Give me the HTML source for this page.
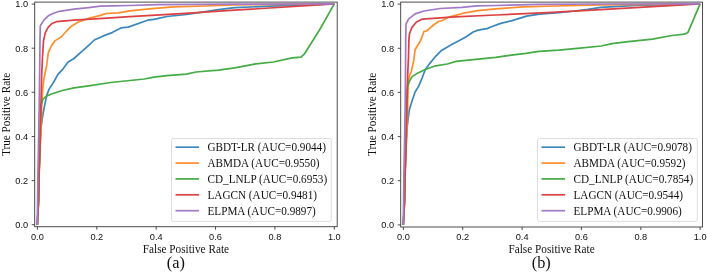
<!DOCTYPE html>
<html><head><meta charset="utf-8"><title>ROC</title>
<style>
html,body{margin:0;padding:0;background:#fff;}
body{width:707px;height:273px;overflow:hidden;}
svg{display:block;will-change:transform;}
text{fill:#111;}
.tk{font-family:"Liberation Sans",sans-serif;font-size:8.4px;}
.lb{font-family:"Liberation Serif",serif;font-size:11.25px;}
.lg{font-family:"Liberation Serif",serif;font-size:11.2px;}
.pl{font-family:"Liberation Serif",serif;font-size:16.3px;}
</style></head>
<body>
<svg width="707" height="273" viewBox="0 0 707 273">
<rect width="707" height="273" fill="#ffffff"/>
<clipPath id="ca"><rect x="34.7" y="2.1" width="302.5" height="224.6"/></clipPath>
<g clip-path="url(#ca)" fill="none" stroke-width="1.7" stroke-linejoin="round" stroke-linecap="butt">
<polyline points="37.3,224.9 38.5,201.0 39.0,174.0 39.9,147.0 41.0,128.0 42.1,119.8 43.4,111.8 44.9,103.9 46.9,94.9 49.1,89.1 53.5,82.5 57.9,74.4 62.4,69.7 68.1,62.1 74.0,58.5 81.3,51.9 88.7,45.3 94.3,40.0 103.3,35.9 112.1,32.6 120.9,27.9 128.2,27.1 147.6,20.2 154.0,19.4 166.9,16.5 186.3,14.5 202.4,12.1 218.5,9.7 234.7,7.7 270.0,6.1 334.3,3.9" stroke="#3a87bd"/>
<polyline points="37.3,224.9 38.6,201.0 39.2,174.0 40.2,147.0 41.5,120.0 41.7,105.0 42.4,95.0 42.7,89.0 43.9,78.8 46.4,67.0 48.3,52.6 51.3,46.0 54.9,40.9 58.5,38.6 61.5,36.7 66.7,30.8 71.0,26.4 78.4,22.0 88.7,18.3 100.4,15.4 106.2,13.5 118.0,12.9 129.8,10.8 149.2,8.9 173.4,6.9 205.6,6.0 234.7,4.8 334.3,3.9" stroke="#ff8e2b"/>
<polyline points="37.3,224.9 38.5,201.0 39.0,174.0 39.8,147.0 40.3,120.0 40.8,108.0 41.4,104.4 42.9,99.5 45.8,96.5 50.8,94.3 62.3,90.5 74.0,87.9 88.7,85.8 110.6,82.5 125.0,81.0 144.4,79.0 154.0,77.2 166.9,75.7 186.3,74.2 196.0,72.0 218.5,70.2 234.7,67.9 255.8,63.8 273.5,62.0 292.1,57.9 301.0,57.1 304.2,54.2 319.5,30.0 334.3,3.9" stroke="#45ab45"/>
<polyline points="37.3,224.9 38.6,201.0 39.1,174.0 40.0,147.0 40.6,120.0 40.8,109.6 41.7,74.6 42.5,57.0 43.5,40.9 45.4,32.3 48.3,27.1 52.0,23.5 56.4,21.7 74.0,20.2 103.3,18.3 129.7,16.6 181.5,13.7 234.7,10.2 334.3,3.9" stroke="#db4142"/>
<polyline points="37.3,224.9 37.6,201.0 37.9,174.0 38.5,147.0 38.9,120.0 39.2,108.0 39.8,60.0 40.0,39.6 40.3,25.7 43.9,20.1 48.3,15.8 53.5,13.3 59.3,11.3 74.0,9.1 88.7,7.6 100.4,6.2 112.0,5.9 129.7,5.5 157.3,4.7 234.7,4.1 334.3,3.9" stroke="#a179c5"/>
</g>
<rect x="34.7" y="2.1" width="302.5" height="224.6" fill="none" stroke="#3a3a3a" stroke-width="0.9"/>
<line x1="37.4" y1="226.7" x2="37.4" y2="229.7" stroke="#3a3a3a" stroke-width="0.9"/>
<line x1="34.7" y1="224.7" x2="31.700000000000003" y2="224.7" stroke="#3a3a3a" stroke-width="0.9"/>
<text transform="translate(37.4,239.5) scale(1.1,1)" text-anchor="middle" class="tk">0.0</text>
<text transform="translate(28.1,227.9) scale(1.1,1)" text-anchor="end" class="tk">0.0</text>
<line x1="96.8" y1="226.7" x2="96.8" y2="229.7" stroke="#3a3a3a" stroke-width="0.9"/>
<line x1="34.7" y1="180.6" x2="31.700000000000003" y2="180.6" stroke="#3a3a3a" stroke-width="0.9"/>
<text transform="translate(96.8,239.5) scale(1.1,1)" text-anchor="middle" class="tk">0.2</text>
<text transform="translate(28.1,183.8) scale(1.1,1)" text-anchor="end" class="tk">0.2</text>
<line x1="156.2" y1="226.7" x2="156.2" y2="229.7" stroke="#3a3a3a" stroke-width="0.9"/>
<line x1="34.7" y1="136.5" x2="31.700000000000003" y2="136.5" stroke="#3a3a3a" stroke-width="0.9"/>
<text transform="translate(156.2,239.5) scale(1.1,1)" text-anchor="middle" class="tk">0.4</text>
<text transform="translate(28.1,139.7) scale(1.1,1)" text-anchor="end" class="tk">0.4</text>
<line x1="215.5" y1="226.7" x2="215.5" y2="229.7" stroke="#3a3a3a" stroke-width="0.9"/>
<line x1="34.7" y1="92.3" x2="31.700000000000003" y2="92.3" stroke="#3a3a3a" stroke-width="0.9"/>
<text transform="translate(215.5,239.5) scale(1.1,1)" text-anchor="middle" class="tk">0.6</text>
<text transform="translate(28.1,95.6) scale(1.1,1)" text-anchor="end" class="tk">0.6</text>
<line x1="274.9" y1="226.7" x2="274.9" y2="229.7" stroke="#3a3a3a" stroke-width="0.9"/>
<line x1="34.7" y1="48.2" x2="31.700000000000003" y2="48.2" stroke="#3a3a3a" stroke-width="0.9"/>
<text transform="translate(274.9,239.5) scale(1.1,1)" text-anchor="middle" class="tk">0.8</text>
<text transform="translate(28.1,51.5) scale(1.1,1)" text-anchor="end" class="tk">0.8</text>
<line x1="334.3" y1="226.7" x2="334.3" y2="229.7" stroke="#3a3a3a" stroke-width="0.9"/>
<line x1="34.7" y1="4.1" x2="31.700000000000003" y2="4.1" stroke="#3a3a3a" stroke-width="0.9"/>
<text transform="translate(334.3,239.5) scale(1.1,1)" text-anchor="middle" class="tk">1.0</text>
<text transform="translate(28.1,7.3) scale(1.1,1)" text-anchor="end" class="tk">1.0</text>
<text transform="translate(185.9,253.1) scale(1,1.13)" text-anchor="middle" class="lb">False Positive Rate</text>
<text transform="translate(10.4,114.4) rotate(-90) scale(1,1.13)" text-anchor="middle" class="lb">True Positive Rate</text>
<text x="175.8" y="267.6" text-anchor="middle" class="pl">(a)</text>
<rect x="171.5" y="138.5" width="159.8" height="82.9" rx="1.8" fill="#fff" fill-opacity="0.8" stroke="#d2d2d2" stroke-opacity="0.85" stroke-width="0.9"/>
<line x1="175.5" y1="147.2" x2="199.1" y2="147.2" stroke="#3a87bd" stroke-width="1.7"/>
<text transform="translate(207.5,151.0) scale(1,1.13)" class="lg">GBDT-LR (AUC=0.9044)</text>
<line x1="175.5" y1="163.1" x2="199.1" y2="163.1" stroke="#ff8e2b" stroke-width="1.7"/>
<text transform="translate(207.5,166.9) scale(1,1.13)" class="lg">ABMDA (AUC=0.9550)</text>
<line x1="175.5" y1="178.9" x2="199.1" y2="178.9" stroke="#45ab45" stroke-width="1.7"/>
<text transform="translate(207.5,182.8) scale(1,1.13)" class="lg">CD_LNLP (AUC=0.6953)</text>
<line x1="175.5" y1="194.8" x2="199.1" y2="194.8" stroke="#db4142" stroke-width="1.7"/>
<text transform="translate(207.5,198.7) scale(1,1.13)" class="lg">LAGCN (AUC=0.9481)</text>
<line x1="175.5" y1="210.7" x2="199.1" y2="210.7" stroke="#a179c5" stroke-width="1.7"/>
<text transform="translate(207.5,214.5) scale(1,1.13)" class="lg">ELPMA (AUC=0.9897)</text>
<clipPath id="cb"><rect x="400.7" y="2.1" width="301.8" height="224.9"/></clipPath>
<g clip-path="url(#cb)" fill="none" stroke-width="1.7" stroke-linejoin="round" stroke-linecap="butt">
<polyline points="403.3,224.9 404.5,201.0 405.0,174.0 405.9,147.0 407.0,128.0 408.0,119.8 409.4,109.6 412.1,100.8 415.1,92.0 418.7,86.1 422.4,77.3 425.3,69.5 429.7,63.6 435.6,56.3 441.5,50.4 451.7,44.5 460.3,40.0 466.2,36.7 473.2,32.0 478.1,30.1 486.9,28.6 492.8,26.3 500.7,23.4 512.0,20.6 526.5,16.1 539.4,14.2 558.7,12.6 574.9,11.0 587.8,9.4 600.7,7.4 636.0,5.3 700.1,3.9" stroke="#3a87bd"/>
<polyline points="403.3,224.9 404.6,201.0 405.2,174.0 406.2,147.0 407.5,120.0 407.8,100.0 408.5,80.3 409.9,74.6 411.4,71.0 413.6,61.4 415.1,49.7 419.5,42.3 421.5,38.5 423.9,31.5 426.8,30.8 434.1,24.5 438.5,21.5 440.8,21.0 442.9,20.2 447.7,17.5 451.7,16.4 463.4,13.2 478.1,10.6 495.7,8.9 523.3,6.9 555.5,6.0 600.7,4.9 700.1,3.9" stroke="#ff8e2b"/>
<polyline points="403.3,224.9 404.5,201.0 405.0,174.0 405.8,147.0 406.3,120.0 406.8,100.0 407.4,86.9 409.2,81.7 412.1,76.6 418.0,72.9 425.3,69.5 435.6,65.8 447.3,64.0 456.1,61.4 478.1,59.2 495.7,57.4 509.4,55.4 525.9,53.3 538.8,51.3 559.0,50.2 577.4,48.4 601.3,46.0 612.0,43.7 628.3,41.6 652.5,39.2 671.8,35.5 684.7,34.2 688.0,32.3 700.1,3.9" stroke="#45ab45"/>
<polyline points="403.3,224.9 404.6,201.0 405.1,174.0 406.0,147.0 406.6,120.0 406.7,109.6 407.2,90.0 407.7,74.6 408.5,57.0 408.9,39.6 409.5,33.7 412.1,27.1 416.5,22.0 422.4,19.1 454.7,16.9 495.7,15.0 547.5,12.6 600.7,9.6 700.1,3.9" stroke="#db4142"/>
<polyline points="403.3,224.9 403.6,201.0 403.9,174.0 404.5,147.0 404.9,120.0 405.2,108.0 405.6,60.0 405.7,39.6 406.0,24.2 408.5,19.1 415.1,13.9 423.9,11.0 440.0,8.5 462.0,7.3 476.6,5.9 495.7,5.5 539.4,4.4 600.7,4.0 700.1,3.9" stroke="#a179c5"/>
</g>
<rect x="400.7" y="2.1" width="301.8" height="224.9" fill="none" stroke="#3a3a3a" stroke-width="0.9"/>
<line x1="403.4" y1="227.0" x2="403.4" y2="230.0" stroke="#3a3a3a" stroke-width="0.9"/>
<line x1="400.7" y1="224.9" x2="397.7" y2="224.9" stroke="#3a3a3a" stroke-width="0.9"/>
<text transform="translate(403.4,239.5) scale(1.1,1)" text-anchor="middle" class="tk">0.0</text>
<text transform="translate(394.1,228.2) scale(1.1,1)" text-anchor="end" class="tk">0.0</text>
<line x1="462.7" y1="227.0" x2="462.7" y2="230.0" stroke="#3a3a3a" stroke-width="0.9"/>
<line x1="400.7" y1="180.7" x2="397.7" y2="180.7" stroke="#3a3a3a" stroke-width="0.9"/>
<text transform="translate(462.7,239.5) scale(1.1,1)" text-anchor="middle" class="tk">0.2</text>
<text transform="translate(394.1,184.0) scale(1.1,1)" text-anchor="end" class="tk">0.2</text>
<line x1="522.1" y1="227.0" x2="522.1" y2="230.0" stroke="#3a3a3a" stroke-width="0.9"/>
<line x1="400.7" y1="136.6" x2="397.7" y2="136.6" stroke="#3a3a3a" stroke-width="0.9"/>
<text transform="translate(522.1,239.5) scale(1.1,1)" text-anchor="middle" class="tk">0.4</text>
<text transform="translate(394.1,139.8) scale(1.1,1)" text-anchor="end" class="tk">0.4</text>
<line x1="581.4" y1="227.0" x2="581.4" y2="230.0" stroke="#3a3a3a" stroke-width="0.9"/>
<line x1="400.7" y1="92.4" x2="397.7" y2="92.4" stroke="#3a3a3a" stroke-width="0.9"/>
<text transform="translate(581.4,239.5) scale(1.1,1)" text-anchor="middle" class="tk">0.6</text>
<text transform="translate(394.1,95.7) scale(1.1,1)" text-anchor="end" class="tk">0.6</text>
<line x1="640.8" y1="227.0" x2="640.8" y2="230.0" stroke="#3a3a3a" stroke-width="0.9"/>
<line x1="400.7" y1="48.3" x2="397.7" y2="48.3" stroke="#3a3a3a" stroke-width="0.9"/>
<text transform="translate(640.8,239.5) scale(1.1,1)" text-anchor="middle" class="tk">0.8</text>
<text transform="translate(394.1,51.5) scale(1.1,1)" text-anchor="end" class="tk">0.8</text>
<line x1="700.1" y1="227.0" x2="700.1" y2="230.0" stroke="#3a3a3a" stroke-width="0.9"/>
<line x1="400.7" y1="4.1" x2="397.7" y2="4.1" stroke="#3a3a3a" stroke-width="0.9"/>
<text transform="translate(700.1,239.5) scale(1.1,1)" text-anchor="middle" class="tk">1.0</text>
<text transform="translate(394.1,7.3) scale(1.1,1)" text-anchor="end" class="tk">1.0</text>
<text transform="translate(551.6,253.1) scale(1,1.13)" text-anchor="middle" class="lb">False Positive Rate</text>
<text transform="translate(376.4,114.4) rotate(-90) scale(1,1.13)" text-anchor="middle" class="lb">True Positive Rate</text>
<text x="541.3" y="267.6" text-anchor="middle" class="pl">(b)</text>
<rect x="537.5" y="138.5" width="159.8" height="82.9" rx="1.8" fill="#fff" fill-opacity="0.8" stroke="#d2d2d2" stroke-opacity="0.85" stroke-width="0.9"/>
<line x1="541.5" y1="147.2" x2="565.1" y2="147.2" stroke="#3a87bd" stroke-width="1.7"/>
<text transform="translate(573.5,151.0) scale(1,1.13)" class="lg">GBDT-LR (AUC=0.9078)</text>
<line x1="541.5" y1="163.1" x2="565.1" y2="163.1" stroke="#ff8e2b" stroke-width="1.7"/>
<text transform="translate(573.5,166.9) scale(1,1.13)" class="lg">ABMDA (AUC=0.9592)</text>
<line x1="541.5" y1="178.9" x2="565.1" y2="178.9" stroke="#45ab45" stroke-width="1.7"/>
<text transform="translate(573.5,182.8) scale(1,1.13)" class="lg">CD_LNLP (AUC=0.7854)</text>
<line x1="541.5" y1="194.8" x2="565.1" y2="194.8" stroke="#db4142" stroke-width="1.7"/>
<text transform="translate(573.5,198.7) scale(1,1.13)" class="lg">LAGCN (AUC=0.9544)</text>
<line x1="541.5" y1="210.7" x2="565.1" y2="210.7" stroke="#a179c5" stroke-width="1.7"/>
<text transform="translate(573.5,214.5) scale(1,1.13)" class="lg">ELPMA (AUC=0.9906)</text>
</svg>
</body></html>
